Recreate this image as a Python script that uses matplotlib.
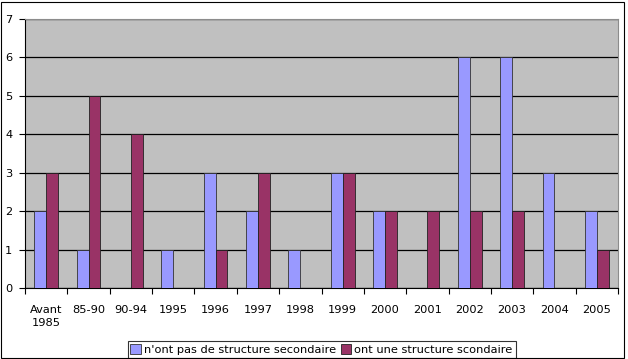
import numpy as np
import matplotlib.pyplot as plt
from matplotlib.patches import Rectangle

categories = ['Avant\n1985', '85-90', '90-94', '1995', '1996', '1997', '1998',
              '1999', '2000', '2001', '2002', '2003', '2004', '2005']
sans_structure = [2, 1, 0, 1, 3, 2, 1, 3, 2, 0, 6, 6, 3, 2]
avec_structure = [3, 5, 4, 0, 1, 3, 0, 3, 2, 2, 2, 2, 0, 1]

COLORS = {'blue': '#9999FF', 'maroon': '#993366', 'bg': '#C0C0C0'}
FS = 8.2

plt.rcParams['font.family'] = 'DejaVu Sans'
fig = plt.figure(figsize=(6.28, 3.59), dpi=100)
ax = fig.add_axes([25 / 628, 1 - 288 / 359, 593 / 628, 269 / 359])
ax.set_facecolor(COLORS['bg'])

x = np.arange(len(categories))
w = 0.28
ax.bar(x - w / 2, sans_structure, w, color=COLORS['blue'], edgecolor='#333333',
       linewidth=0.6, label="n'ont pas de structure secondaire", zorder=3)
ax.bar(x + w / 2, avec_structure, w, color=COLORS['maroon'], edgecolor='#222222',
       linewidth=0.6, label='ont une structure scondaire', zorder=3)

ax.set_xlim(-0.5, len(categories) - 0.5)
ax.set_ylim(0, 7)
ax.set_yticks(range(8))
ax.yaxis.grid(True, color='black', linewidth=0.9, zorder=1)
ax.set_axisbelow(True)

# tick marks between categories, labels at centres
ax.set_xticks(np.arange(-0.5, len(categories)), minor=False)
ax.set_xticklabels([])
ax.set_xticks(x, minor=True)
ax.set_xticklabels(categories, minor=True, fontsize=FS, linespacing=1.4)
ax.tick_params(axis='x', which='minor', length=0, pad=12)
ax.tick_params(axis='x', which='major', length=4, direction='out', color='black')
ax.tick_params(axis='y', length=4, direction='out', labelsize=FS, pad=5)

for side in ['top', 'right']:
    ax.spines[side].set_color('#8c8c8c')
ax.spines['left'].set_color('black')
ax.spines['bottom'].set_color('black')

leg = ax.legend(loc='lower center', bbox_to_anchor=(0.512, 0.004),
                bbox_transform=fig.transFigure, ncol=2, fontsize=FS,
                frameon=True, fancybox=False, edgecolor='black',
                handlelength=0.9, handleheight=0.9, handletextpad=0.3,
                columnspacing=0.4, borderpad=0.25, borderaxespad=0)
leg.get_frame().set_linewidth(0.8)

fig.patches.append(Rectangle((0.002, 0.004), 0.992, 0.99, transform=fig.transFigure,
                             fill=False, edgecolor='black', linewidth=0.8))

plt.savefig('out.png', dpi=100)
